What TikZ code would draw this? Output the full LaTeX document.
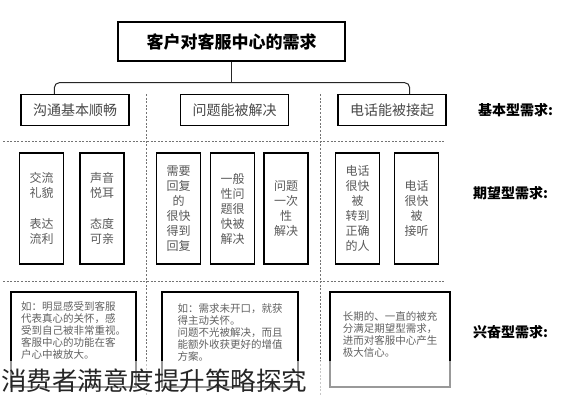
\documentclass[tikz,border=0pt]{standalone}
\usepackage{fontspec}
\setmainfont{Noto Sans CJK SC}
\usepackage{tikz}
\usetikzlibrary{positioning}
\tikzset{every node/.append style={inner sep=0pt}}

\begin{document}
\begin{tikzpicture}[x=1pt,y=-1pt,
  hd/.style={draw,line width=1.3pt,minimum width=227pt,minimum height=39pt,font=\fontsize{17}{17}\selectfont\bfseries},
  b2/.style={draw,line width=1.3pt,minimum width=108pt,minimum height=31pt,text=black!72,font=\fontsize{14}{14}\selectfont},
  b3/.style={draw,line width=1.3pt,minimum width=44pt,minimum height=111pt,align=center,text=black!65,font=\fontsize{12}{15}\selectfont},
  b4/.style={draw,line width=1.2pt,minimum height=95pt},
  t4/.style={align=left,text=black!62,font=\fontsize{10.5}{11.8}\selectfont},
  lb/.style={anchor=west,font=\fontsize{14}{14}\selectfont\bfseries},
  sep/.style={black!55,line width=0.7pt,dash pattern=on 2pt off 1.6pt},
  brc/.style={black!85,line width=1pt}]
\useasboundingbox (0,0) rectangle (565,400);
% separators
\foreach \y in {141,281} \draw[sep] (3,\y) -- (445,\y);
\foreach \x in {146,320} \draw[sep] (\x,94) -- (\x,395);
% top
\node[hd] (top) at (231.5,41.5) {客户对客服中心的需求};
% basic row
\node[b2] (r1) at (75,110) {沟通基本顺畅};
\node[b2] (r2) at (234.5,110) {问题能被解决};
\node[b2] (r3) at (392,110) {电话能被接起};
\path (top.south) ++(0,21) coordinate (j);
\draw[brc] (top.south) -- (j);
\draw[brc,rounded corners=5pt] ([xshift=34]r1.north west) |- (j) -| ([xshift=-37]r3.north east);
% expected row
\node[b3] (ea) at (41.5,208.5) {交流\\礼貌\\[16pt]表达\\流利};
\node[b3] (eb) at (102,208.5) {声音\\悦耳\\[16pt]态度\\可亲};
\node[b3] (ec) at (178.5,208.5) {需要\\回复\\的\\很快\\得到\\回复};
\node[b3] (ed) at (232.5,208.5) {一般\\性问\\题很\\快被\\解决};
\node[b3] (ee) at (286,208.5) {问题\\一次\\性\\解决};
\node[b3] (ef) at (357.5,208.5) {电话\\很快\\被\\转到\\正确\\的人};
\node[b3] (eg) at (416.5,208.5) {电话\\很快\\被\\接听};
% exciting row
\node[b4,minimum width=125pt] (xa) at (73.5,339.5) {};
\node[b4,minimum width=136pt] (xb) at (230,339.5) {};
\node[b4,minimum width=120pt] (xc) at (390,339.5) {};
\node[t4] (ta) at ([yshift=9]xa.center) {如：明显感受到客服\\代表真心的关怀，感\\受到自己被非常重视。\\客服中心的功能在客\\户心中被放大。};
\node[t4] (tb) at ([yshift=7]xb.center) {如：需求未开口，就获\\得主动关怀。\\问题不光被解决，而且\\能额外收获更好的增值\\方案。};
\node[t4] (tc) at ([yshift=5]xc.center) {长期的、一直的被充\\分满足期望型需求，\\进而对客服中心产生\\极大信心。};
% labels
\node[lb] (l1) at (478,110) {基本型需求:};
\node[lb] (l2) at (473,193) {期望型需求:};
\node[lb] (l3) at (473,332) {兴奋型需求:};
% watermark
\fill[white,opacity=0.6] (0,361) rectangle (565,400);
\node[anchor=west,text=black!85,font=\fontsize{25.5}{26}\selectfont] (wm) at (1,381) {消费者满意度提升策略探究};
\end{tikzpicture}
\end{document}
